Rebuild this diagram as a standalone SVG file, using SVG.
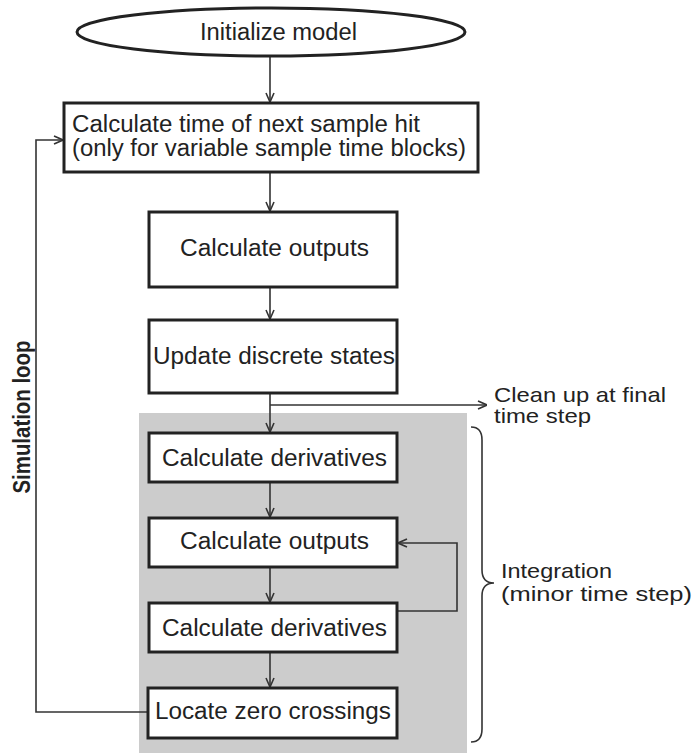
<svg xmlns="http://www.w3.org/2000/svg" width="696" height="753" viewBox="0 0 696 753">
<style>
.box{fill:#fff;stroke:#222;stroke-width:3}
.t{font-family:"Liberation Sans",Arial,sans-serif;font-size:23px;fill:#222}
.s{font-family:"Liberation Sans",Arial,sans-serif;font-size:21px;fill:#222}
.ln{fill:none;stroke:#333;stroke-width:1.6}
</style>
<defs>
<marker id="ah" viewBox="0 0 10 10" refX="10" refY="5" markerWidth="10" markerHeight="10" markerUnits="userSpaceOnUse" orient="auto">
<path d="M1,1 L10,5 L1,9" fill="none" stroke="#333" stroke-width="1.6"/>
</marker>
</defs>
<rect id="integration-bg" x="139" y="413" width="328" height="340" fill="#cccccc"/>
<g id="connectors">
<line class="ln" x1="270" y1="56" x2="270" y2="102" marker-end="url(#ah)"/>
<line class="ln" x1="270" y1="172" x2="270" y2="211" marker-end="url(#ah)"/>
<line class="ln" x1="270" y1="287" x2="270" y2="319" marker-end="url(#ah)"/>
<line class="ln" x1="270" y1="393" x2="270" y2="432" marker-end="url(#ah)"/>
<polyline class="ln" points="270,405 487,405" marker-end="url(#ah)"/>
<line class="ln" x1="270" y1="482" x2="270" y2="517" marker-end="url(#ah)"/>
<line class="ln" x1="270" y1="567" x2="270" y2="602" marker-end="url(#ah)"/>
<line class="ln" x1="270" y1="652" x2="270" y2="687" marker-end="url(#ah)"/>
<polyline class="ln" points="397,611 457,611 457,543 398,543" marker-end="url(#ah)"/>
<polyline class="ln" points="148,712 36,712 36,140 63,140" marker-end="url(#ah)"/>
<path class="ln" d="M471,427 Q482,427 482,440 L482,570 Q482,583 494,583 Q482,583 482,596 L482,729 Q482,742 471,742"/>
</g>
<g id="init">
<ellipse cx="271" cy="32" rx="194" ry="24" fill="#fff" stroke="#222" stroke-width="3"/>
<text class="t" x="200" y="40" textLength="157" lengthAdjust="spacingAndGlyphs">Initialize model</text>
</g>
<g id="next-hit">
<rect class="box" x="64" y="103" width="414" height="69"/>
<text class="t" x="72" y="132" textLength="348" lengthAdjust="spacingAndGlyphs">Calculate time of next sample hit</text>
<text class="t" x="72" y="156" textLength="394" lengthAdjust="spacingAndGlyphs">(only for variable sample time blocks)</text>
</g>
<g id="outputs1">
<rect class="box" x="149" y="212" width="248" height="75"/>
<text class="t" x="180" y="256" textLength="189" lengthAdjust="spacingAndGlyphs">Calculate outputs</text>
</g>
<g id="discrete">
<rect class="box" x="149" y="320" width="248" height="73"/>
<text class="t" x="153" y="364" textLength="242" lengthAdjust="spacingAndGlyphs">Update discrete states</text>
</g>
<g id="deriv1">
<rect class="box" x="149" y="433" width="248" height="49"/>
<text class="t" x="162" y="466" textLength="225" lengthAdjust="spacingAndGlyphs">Calculate derivatives</text>
</g>
<g id="outputs2">
<rect class="box" x="149" y="518" width="248" height="49"/>
<text class="t" x="180" y="549" textLength="189" lengthAdjust="spacingAndGlyphs">Calculate outputs</text>
</g>
<g id="deriv2">
<rect class="box" x="149" y="603" width="248" height="49"/>
<text class="t" x="162" y="636" textLength="225" lengthAdjust="spacingAndGlyphs">Calculate derivatives</text>
</g>
<g id="zero">
<rect class="box" x="148" y="688" width="249" height="50"/>
<text class="t" x="155" y="719" textLength="236" lengthAdjust="spacingAndGlyphs">Locate zero crossings</text>
</g>
<g id="cleanup">
<text class="s" x="494" y="402" textLength="172" lengthAdjust="spacingAndGlyphs">Clean up at final</text>
<text class="s" x="494" y="423" textLength="97" lengthAdjust="spacingAndGlyphs">time step</text>
</g>
<g id="integration-label">
<text class="s" x="501" y="578" textLength="111" lengthAdjust="spacingAndGlyphs">Integration</text>
<text class="s" x="501" y="601" textLength="191" lengthAdjust="spacingAndGlyphs">(minor time step)</text>
</g>
<g id="sim-loop">
<text class="t" transform="translate(30,417) rotate(-90)" text-anchor="middle" font-weight="bold" font-size="22" textLength="153" lengthAdjust="spacingAndGlyphs">Simulation loop</text>
</g>
</svg>
